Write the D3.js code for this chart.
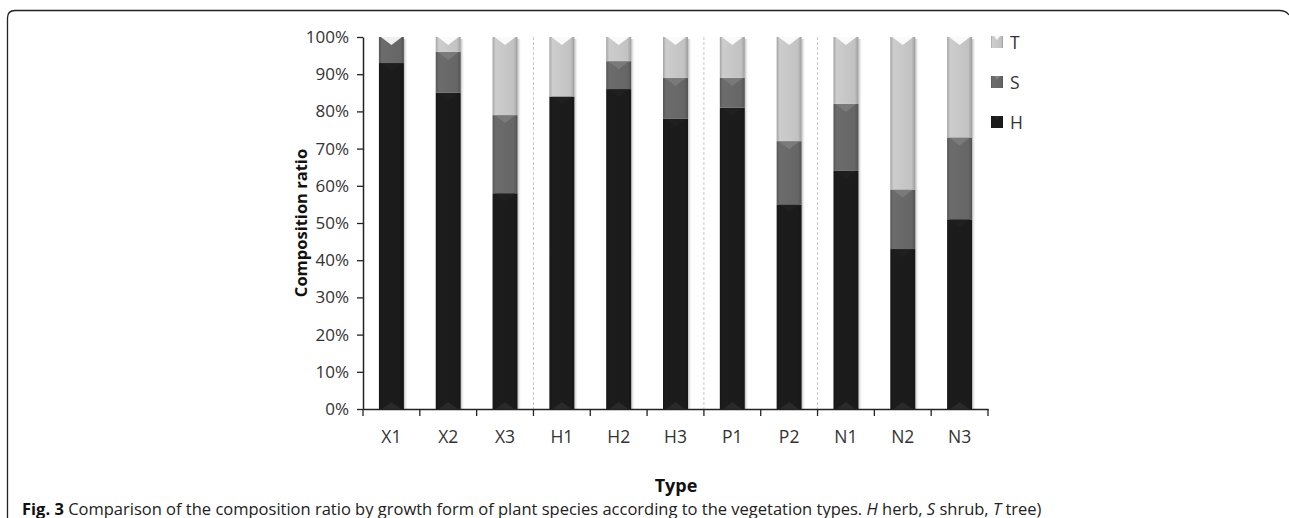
<!DOCTYPE html>
<html><head><meta charset="utf-8">
<script src="https://cdn.jsdelivr.net/npm/d3@7"></script>
<style>body{margin:0;background:#fff}svg{display:block}</style>
</head><body>
<svg id="c" width="1289" height="518"></svg>
<script>
const categories = ["X1","X2","X3","H1","H2","H3","P1","P2","N1","N2","N3"];
const herb  = [93, 85, 58, 84, 86, 78, 81, 55, 64, 43, 51];
const shrub = [7, 11, 21, 0, 7.5, 11, 8, 17, 18, 16, 22];
const tree  = [0, 4, 21, 16, 6.5, 11, 11, 28, 18, 41, 27];
const seriesNames = ["H","S","T"];
const yTicks = [0,10,20,30,40,50,60,70,80,90,100];
const separatorsAfter = ["X3","H3","P2"];

const svg = d3.select("#c");
const font = "'Open Sans', 'Noto Sans', sans-serif";
// frame
svg.append("path")
  .attr("d","M7.5,530 L7.5,18 Q7.5,10.5 15,10.5 L1279,10.5 Q1286,10.5 1289,15")
  .attr("fill","none").attr("stroke","#222").attr("stroke-width",1.3);

const x = d3.scaleBand().domain(categories).range([363,988]).paddingInner(0.56).paddingOuter(0.28);
const xb = d3.scaleBand().domain(categories).range([363,988]);
const y = d3.scaleLinear().domain([0,100]).range([409,37]);

const colors = {H:"#1b1b1b", S:"#666666", T:"#c2c2c2"};
const defs = svg.append("defs");
Object.entries(colors).forEach(([k,c])=>{
  const g = defs.append("linearGradient").attr("id","g"+k).attr("x1","0").attr("x2","1");
  const col = d3.color(c);
  g.append("stop").attr("offset","0").attr("stop-color",col.darker(0.5));
  g.append("stop").attr("offset","0.12").attr("stop-color",col.brighter(0.15));
  g.append("stop").attr("offset","0.85").attr("stop-color",col);
  g.append("stop").attr("offset","1").attr("stop-color",col.darker(0.6));
});
const sh = defs.append("linearGradient").attr("id","shadow").attr("x1","0").attr("x2","1");
sh.append("stop").attr("offset","0").attr("stop-color","#bbb");
sh.append("stop").attr("offset","1").attr("stop-color","#fff").attr("stop-opacity",0);

// separators
separatorsAfter.forEach(c=>{
  const xx = xb(c)+xb.bandwidth();
  svg.append("line").attr("x1",xx).attr("x2",xx).attr("y1",y(100)).attr("y2",y(0))
    .attr("stroke","#c8c8c8").attr("stroke-dasharray","3,2").attr("stroke-width",1);
});

const data = categories.map((c,i)=>({c, H:herb[i], S:shrub[i], T:tree[i]}));
const stack = d3.stack().keys(seriesNames)(data);
const bw = x.bandwidth();

// shadows
svg.append("g").selectAll("rect").data(data).join("rect")
  .attr("x",d=>x(d.c)+bw).attr("width",4)
  .attr("y",y(100)+2).attr("height",y(0)-y(100)-2)
  .attr("fill","url(#shadow)");

stack.forEach(s=>{
  const key = s.key;
  const g = svg.append("g");
  g.selectAll("rect").data(s.filter(d=>d[1]-d[0]>0)).join("rect")
    .attr("x",d=>x(d.data.c)).attr("width",bw)
    .attr("y",d=>y(d[1])).attr("height",d=>y(d[0])-y(d[1]))
    .attr("fill","url(#g"+key+")");
  g.selectAll("path").data(s.filter(d=>d[1]-d[0]>0)).join("path")
    .attr("d",d=>{
      const x0=x(d.data.c), yt=y(d[1]);
      return `M${x0+2},${yt} L${x0+bw/2},${yt+8} L${x0+bw-2},${yt} Z`;
    })
    .attr("fill",d=> d[1]>=99.9 ? "#ffffff" : d3.color(colors[key]).brighter(0.6))
    .attr("opacity",d=> d[1]>=99.9 ? 0.9 : 0.8);
  g.selectAll("path.b").data(s.filter(d=>d[0]===0)).join("path").attr("class","b")
    .attr("d",d=>{
      const x0=x(d.data.c), yb=y(0);
      return `M${x0+3},${yb} L${x0+bw/2},${yb-7} L${x0+bw-3},${yb} Z`;
    })
    .attr("fill","#2a2a2a");
});

// axes
const yAxis = d3.axisLeft(y).tickValues(yTicks).tickFormat(d=>d+"%").tickSize(6).tickSizeOuter(0);
const ya = svg.append("g").attr("transform","translate(363,0)").call(yAxis);
ya.selectAll("text").attr("font-family",font).attr("font-size",17).attr("fill","#333").attr("x",-14);
ya.select(".domain").attr("stroke","#222").attr("stroke-width",1.5);
ya.selectAll(".tick line").attr("stroke","#222").attr("stroke-width",1.3);

const xAxis = d3.axisBottom(xb).tickSize(0).tickSizeOuter(0);
const xa = svg.append("g").attr("transform","translate(0,409)").call(xAxis);
xa.select(".domain").attr("stroke","#222").attr("stroke-width",1.5);
xa.selectAll("text").attr("font-family",font).attr("font-size",17.5).attr("fill","#333").attr("y",0).attr("dy","1.95em");
const bounds = categories.map(c=>xb(c)).concat([xb(categories[categories.length-1])+xb.bandwidth()]);
xa.selectAll("line.bt").data(bounds).join("line").attr("class","bt")
  .attr("x1",d=>d).attr("x2",d=>d).attr("y1",0).attr("y2",7).attr("stroke","#222").attr("stroke-width",1.3);

svg.append("text").attr("transform","translate(307,223) rotate(-90)")
  .attr("text-anchor","middle").attr("font-family",font).attr("font-weight","bold")
  .attr("font-size",16.5).attr("fill","#111").text("Composition ratio");
svg.append("text").attr("x",676).attr("y",492).attr("text-anchor","middle")
  .attr("font-family",font).attr("font-weight","bold").attr("font-size",18).attr("fill","#111").text("Type");

// legend
const legendItems = ["T","S","H"];
const lg = svg.append("g");
legendItems.forEach((k,i)=>{
  const yy = 42 + i*40;
  lg.append("rect").attr("x",991).attr("y",yy-6).attr("width",12).attr("height",12).attr("fill","url(#g"+k+")");
  lg.append("path").attr("d",`M994,${yy-6} L997,${yy-2} L1000,${yy-6} Z`).attr("fill",d3.color(colors[k]).brighter(0.7));
  lg.append("text").attr("x",1010).attr("y",yy+6.5).attr("font-family",font).attr("font-size",17.5).attr("fill","#333").text(k);
});

// caption
const cap = svg.append("text").attr("x",22).attr("y",514.5).attr("font-family",font).attr("font-size",16.5).attr("fill","#222");
cap.append("tspan").attr("font-weight","bold").attr("fill","#111").text("Fig. 3");
cap.append("tspan").text(" Comparison of the composition ratio by growth form of plant species according to the vegetation types. ");
cap.append("tspan").attr("font-style","italic").text("H");
cap.append("tspan").text(" herb, ");
cap.append("tspan").attr("font-style","italic").text("S");
cap.append("tspan").text(" shrub, ");
cap.append("tspan").attr("font-style","italic").text("T");
cap.append("tspan").text(" tree)");
</script>
</body></html>
